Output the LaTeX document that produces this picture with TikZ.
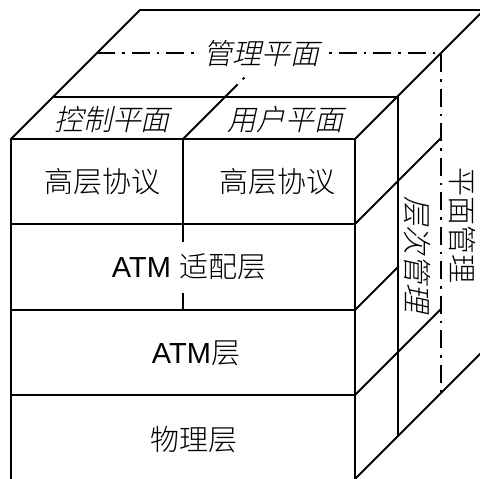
\documentclass[tikz,border=0pt]{standalone}
\usepackage{fontspec}
\setmainfont{Liberation Sans}
\newfontfamily\cjk{Noto Sans CJK SC Light}
\newfontfamily\cjkit{Noto Sans CJK SC Light}[FakeSlant=0.22]
\begin{document}
\begin{tikzpicture}[x=1pt,y=-1pt,
  edge/.style={line width=1.9pt, line cap=rect},
  dashdot/.style={line width=1.9pt, dash pattern=on 18pt off 7pt on 2.5pt off 7pt},
  lbl/.style={inner sep=0pt, font=\fontsize{29}{34}\selectfont\cjk},
  lblit/.style={inner sep=0pt, font=\fontsize{29}{34}\selectfont\cjkit},
  cover/.style={fill=white, inner sep=7pt}]
\useasboundingbox (0,0) rectangle (480,479);
\clip (0,0) rectangle (480,479);
% dash-dot plane (plane management boundary)
\draw[dashdot] (97,53) -- (441,53) -- (441,395);
\draw[dashdot] (225,97) -- (269,53);
\draw[dashdot] (183,224) -- (183,310);
% front face
\draw[edge] (11,490) -- (11,139) -- (355,139) -- (355,490);
\draw[edge] (11,224) -- (355,224);
\draw[edge] (11,310) -- (355,310);
\draw[edge] (11,395) -- (355,395);
\draw[edge] (183,139) -- (183,224);
% top face
\draw[edge] (11,139) -- (140,10) -- (495,10);
\draw[edge] (355,139) -- (486,8);
\draw[edge] (53,97) -- (398,97);
\draw[edge] (183,139) -- (225,97);
% right side
\draw[edge] (398,97) -- (398,436);
\draw[edge] (355,224) -- (440,139);
\draw[edge] (355,310) -- (398,267);
\draw[edge] (355,395) -- (440,310);
\draw[edge] (355,479) -- (495,339);
% labels
\node[lblit, cover] (mgmt) at (261,53) {管理平面};
\node[lblit] (ctrl) at (112,119) {控制平面};
\node[lblit] (user) at (285,119) {用户平面};
\node[lbl] (hl1) at (103,182) {高层协议};
\node[lbl] (hl2) at (277,182) {高层协议};
\node[cover, inner sep=8pt, font=\fontsize{29}{34}\selectfont] (aal) at (189,267) {ATM {\cjk 适配层}};
\node[inner sep=0pt, font=\fontsize{29}{34}\selectfont] (atm) at (196,353) {ATM{\cjk 层}};
\node[lbl] (phy) at (194,440) {物理层};
\node[lblit, rotate=-90] (layer) at (417,254) {层次管理};
\node[lbl, rotate=-90] (plane) at (463,225) {平面管理};
\end{tikzpicture}
\end{document}
